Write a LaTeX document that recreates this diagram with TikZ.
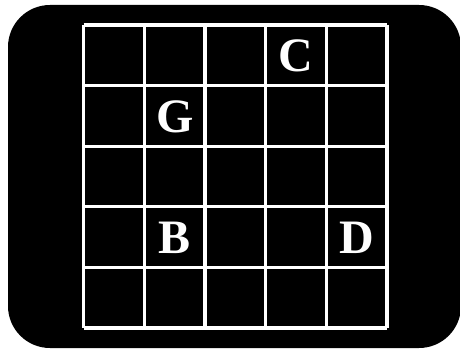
\documentclass[tikz,border=0pt]{standalone}
\usepackage{fontspec}
\setmainfont{Liberation Serif}
\begin{document}
\begin{tikzpicture}[x=1pt,y=-1pt,
  gridline/.style={draw=white,line width=3.2pt},
  letter/.style={text=white,font=\fontsize{48}{48}\selectfont\bfseries,inner sep=0pt}]
\useasboundingbox (0,0) rectangle (460,350);
\clip (0,0) rectangle (460,350);
\fill[white] (0,0) rectangle (460,350);
\fill[black,rounded corners=42pt] (8,5) rectangle (461,348);
\foreach \x in {83.5,144.2,204.9,265.6,326.3,387} \draw[gridline] (\x,25) -- (\x,328);
\foreach \y in {25,85.6,146.2,206.8,267.4,328} \draw[gridline] (83.5,\y) -- (387,\y);
\node[letter] (C) at (296,56) {C};
\node[letter] (G) at (175,117) {G};
\node[letter] (B) at (175,238) {B};
\node[letter] (D) at (357,238) {D};
\end{tikzpicture}
\end{document}
